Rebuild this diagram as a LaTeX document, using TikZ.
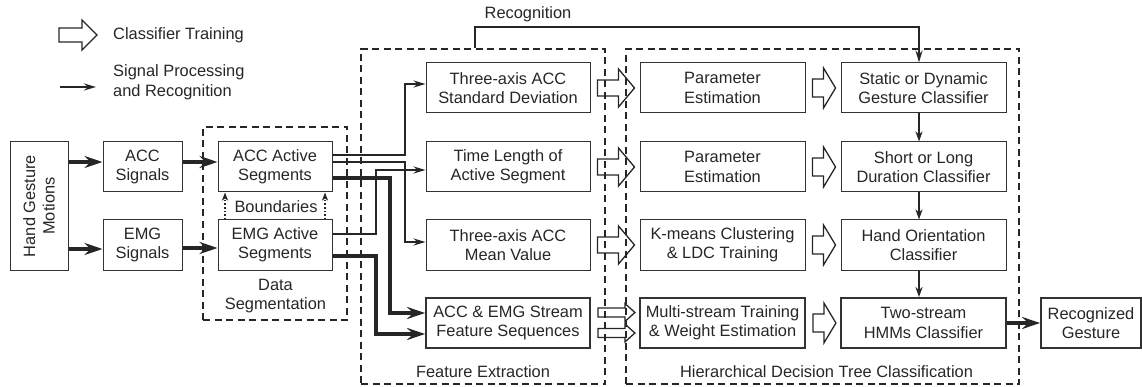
\documentclass[tikz,border=0pt]{standalone}
\usepackage{fontspec}
\setmainfont{Liberation Sans}
\usetikzlibrary{arrows.meta,calc}
\newcommand\hlwarrow[5]{%
  \draw[harr] (#1) ++(0,#4) -- ++(#2,0) -- ++(0,#5-#4) -- ++(#3,-#5) -- ++(-#3,-#5) -- ++(0,#5-#4) -- ++(-#2,0) -- cycle;}
\begin{document}
\begin{tikzpicture}[x=1pt,y=-1pt,
  every node/.style={font=\fontsize{16.4}{19.5}\selectfont, text=black!85},
  box/.style={draw=black!80, line width=1pt, minimum height=50pt, align=center, inner sep=0pt},
  tbox/.style={box, line width=1.8pt},
  dbox/.style={draw=black!85, dash pattern=on 7pt off 4.5pt, line width=1.3pt, inner sep=0pt},
  harr/.style={draw=black!85, line width=1.3pt, line join=miter},
  thn/.style={draw=black!85, line width=2pt, -{Stealth[length=12pt,width=7pt,inset=4pt]}},
  thk/.style={draw=black!85, line width=4pt, -{Stealth[length=18pt,width=12pt,inset=6pt]}},
  vrt/.style={draw=black!85, line width=2pt, -{Stealth[length=10pt,width=7pt,inset=3pt]}},
  dtd/.style={draw=black!85, line width=1.6pt, dotted, -{Stealth[length=8pt,width=6pt,inset=2pt]}},
  lbl/.style={inner sep=0pt, align=center}
  ]
\useasboundingbox (0,0) rectangle (1142,387);

% dashed group boxes
\node[dbox, minimum width=144pt, minimum height=193pt] (dseg) at (275,223.5) {};
\node[dbox, minimum width=244pt, minimum height=335pt] (fext) at (483,216.5) {};
\node[dbox, minimum width=393pt, minimum height=335pt] (hdtc) at (822.5,216.5) {};

% legend
\coordinate (lgh) at (59,35);
\hlwarrow{lgh}{23}{15}{7}{15}
\node[lbl, anchor=west] (lgt1) at (113,35) {Classifier Training};
\coordinate (lga) at (60,87);
\coordinate (lgb) at (96,87);
\draw[thn] (lga) -- (lgb);
\node[lbl, anchor=west, align=left] (lgt2) at (113,82.5) {Signal Processing\\and Recognition};

% input boxes
\node[box, minimum width=58pt, minimum height=128pt] (hand) at (39,206) {};
\node[lbl, rotate=90] (handt) at (hand.center) {Hand Gesture\\Motions};
\node[box, minimum width=79pt] (accs) at (142.5,167) {ACC\\Signals};
\node[box, minimum width=79pt] (emgs) at (142.5,245) {EMG\\Signals};
\node[box, minimum width=114pt] (acca) at (275,167) {ACC Active\\Segments};
\node[box, minimum width=114pt] (emga) at (275,245) {EMG Active\\Segments};
\node[lbl] (bnd) at (276,207) {Boundaries};
\node[lbl] (dsegt) at (275.5,296) {Data\\Segmentation};

% feature boxes
\node[box, minimum width=164pt] (f1) at (508,88) {Three-axis ACC\\Standard Deviation};
\node[box, minimum width=164pt] (f2) at (508,167) {Time Length of\\Active Segment};
\node[box, minimum width=164pt] (f3) at (508,245) {Three-axis ACC\\Mean Value};
\node[tbox, minimum width=164pt] (f4) at (508,323) {ACC \& EMG Stream\\Feature Sequences};
\node[lbl] (fextt) at (483,372) {Feature Extraction};

% middle boxes
\node[box, minimum width=165pt] (m1) at (722.5,88) {Parameter\\Estimation};
\node[box, minimum width=165pt] (m2) at (722.5,167) {Parameter\\Estimation};
\node[box, minimum width=165pt] (m3) at (722.5,245) {K-means Clustering\\\& LDC Training};
\node[tbox, minimum width=165pt] (m4) at (722.5,323) {Multi-stream Training\\\& Weight Estimation};

% right boxes
\node[box, minimum width=165pt] (r1) at (923.5,88) {Static or Dynamic\\Gesture Classifier};
\node[box, minimum width=165pt] (r2) at (923.5,167) {Short or Long\\Duration Classifier};
\node[box, minimum width=165pt] (r3) at (923.5,245) {Hand Orientation\\Classifier};
\node[tbox, minimum width=165pt] (r4) at (923.5,323) {Two-stream\\HMMs Classifier};
\node[lbl] (hdtct) at (826.5,372) {Hierarchical Decision Tree Classification};

\node[tbox, minimum width=100pt] (rec) at (1091,323) {Recognized\\Gesture};

% recognition line
\node[lbl] (rect) at (528,14) {Recognition};
\draw[thn] ([xshift=-8pt]fext.north) -- ++(0,-21) -| ([xshift=-4.5pt]r1.north);

% input arrows
\draw[thk] ([yshift=44pt]hand.east) -- ([yshift=5pt]accs.west);
\draw[thk] ([yshift=-43pt]hand.east) -- ([yshift=-4pt]emgs.west);
\draw[thk] ([yshift=5pt]accs.east) -- ([yshift=5pt]acca.west);
\draw[thk] ([yshift=-3pt]emgs.east) -- ([yshift=-3pt]emga.west);

% boundaries
\draw[dtd] ([xshift=-50pt]emga.north) -- ([xshift=-50pt]acca.south);
\draw[dtd] ([xshift=50pt]emga.north) -- ([xshift=50pt]acca.south);

% segment to feature connectors
\draw[thn] ([yshift=12pt]acca.east) -- ++(72,0) |- ([yshift=4pt]f1.west);
\draw[thn] ([yshift=4.5pt]acca.east) -- ++(72,0) |- ([yshift=3pt]f3.west);
\draw[thn] ([yshift=11pt]emga.east) -- ++(43.5,0) |- ([yshift=-3pt]f2.west);
\draw[thk] ([yshift=-11pt]acca.east) -- ++(57,0) |- ([yshift=10pt]f4.west);
\draw[thk] ([yshift=-11pt]emga.east) -- ++(43.5,0) |- ([yshift=-11pt]f4.west);

% hollow arrows feature -> middle
\hlwarrow{$(f1.east)+(7,0)$}{21}{16}{8}{19}
\hlwarrow{$(f2.east)+(7,0)$}{21}{16}{8}{19}
\hlwarrow{$(f3.east)+(7,0)$}{21}{16}{8}{19}
\hlwarrow{$(f4.east)+(7,-10.5)$}{27}{10}{4.5}{9}
\hlwarrow{$(f4.east)+(7,10)$}{27}{10}{4.5}{9}

% hollow arrows middle -> right
\hlwarrow{$(m1.east)+(7,0)$}{11}{12}{9}{20}
\hlwarrow{$(m2.east)+(7,0)$}{11}{12}{9}{20}
\hlwarrow{$(m3.east)+(7,0)$}{11}{12}{9}{20}
\hlwarrow{$(m4.east)+(7,0)$}{11}{12}{9}{20}

% decision chain
\draw[vrt] ([xshift=-4.5pt]r1.south) -- ([xshift=-4.5pt]r2.north);
\draw[vrt] ([xshift=-4.5pt]r2.south) -- ([xshift=-4.5pt]r3.north);
\draw[vrt] ([xshift=-4.5pt]r3.south) -- ([xshift=-4.5pt]r4.north);
\draw[thk] (r4.east) -- (rec.west);
\end{tikzpicture}
\end{document}
